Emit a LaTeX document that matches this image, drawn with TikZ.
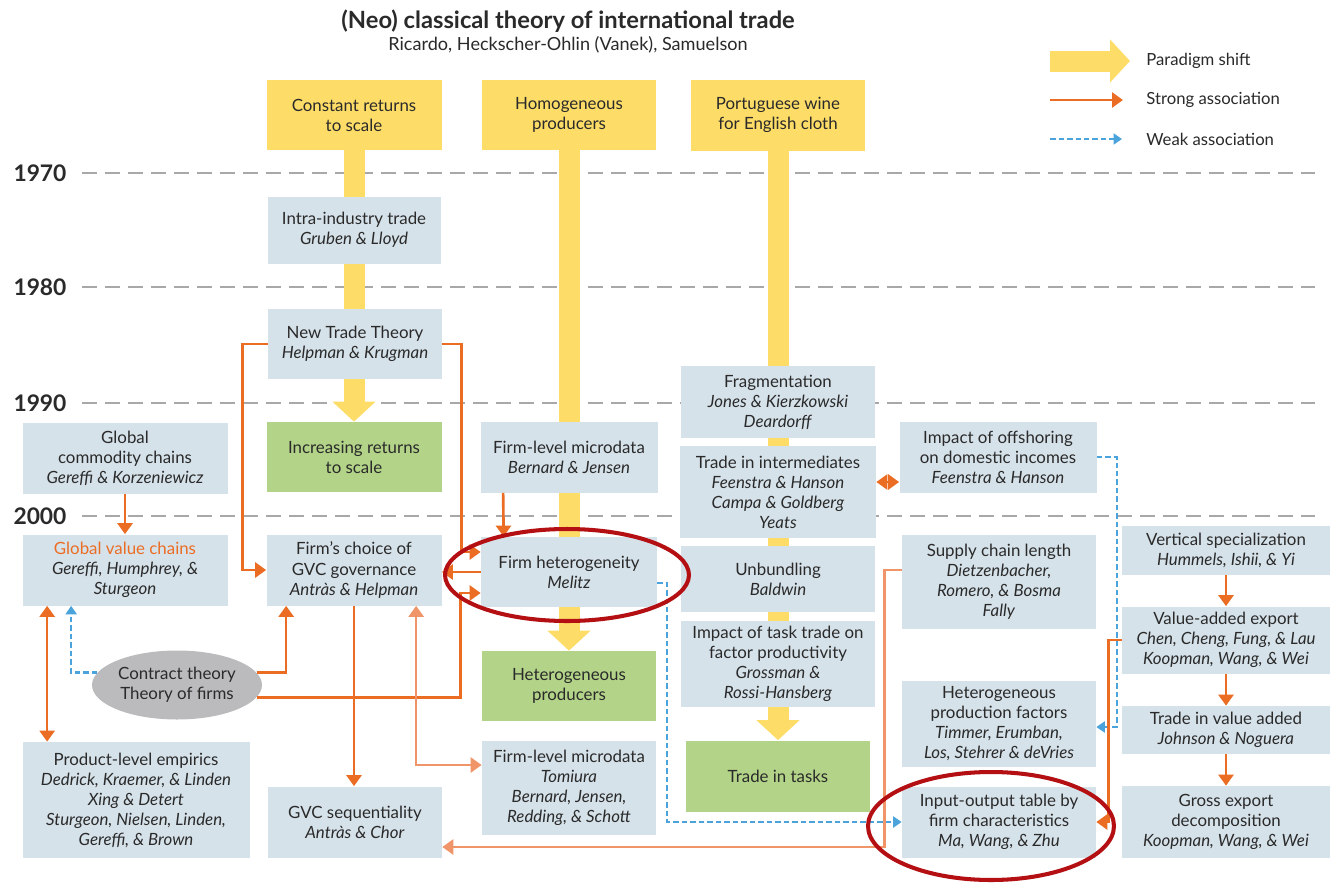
\documentclass[tikz,border=0pt]{standalone}
\usepackage{fontspec}
\setmainfont{Lato}
\usetikzlibrary{arrows.meta,shapes.geometric,calc}

\definecolor{gelbton}{HTML}{FDDD68}
\definecolor{boxblau}{HTML}{D6E2EA}
\definecolor{boxgruen}{HTML}{B3D488}
\definecolor{orangeton}{HTML}{EB6D24}
\definecolor{orangehell}{HTML}{F0946A}
\definecolor{blauton}{HTML}{4AA3DB}
\definecolor{grauellipse}{HTML}{BBBBBD}
\definecolor{rotton}{HTML}{B40F12}
\definecolor{rastergrau}{HTML}{A8A8A8}
\definecolor{schrift}{HTML}{2A2A2A}

\newcommand\kastenschrift{\fontsize{9.6}{11.4}\selectfont}

\pgfdeclarelayer{hinten}
\pgfsetlayers{hinten,main}

\tikzset{
  kasten/.style={fill=boxblau, text=schrift, align=center, inner sep=1pt, font=\kastenschrift},
  gruenkasten/.style={kasten, fill=boxgruen},
  gelbkasten/.style={kasten, fill=gelbton},
  groesse/.style 2 args={minimum width=#1*0.02cm, minimum height=#2*0.02cm},
  stark/.style={draw=orangeton, line width=1.5pt, ->},
  starkhell/.style={stark, draw=orangehell},
  schwach/.style={draw=blauton, line width=1.3pt, dash pattern=on 0.11cm off 0.06cm,
    -{Triangle[length=0.17cm,width=0.22cm]}},
  paradigma/.style={draw=gelbton, line width=0.42cm, -{Triangle[length=0.4cm,width=0.84cm]}},
  rasterlinie/.style={draw=rastergrau, line width=1.1pt, dash pattern=on 0.3cm off 0.16cm},
  jahr/.style={font=\fontsize{13}{15}\selectfont\bfseries, text=schrift},
  legende/.style={anchor=west, inner sep=0, text=schrift, font=\fontsize{9.5}{11}\selectfont},
  markierung/.style={draw=rotton, line width=2.3pt},
}

\begin{document}
\begin{tikzpicture}[x=0.02cm, y=-0.02cm, >={Triangle[length=0.22cm,width=0.3cm]}]

  \useasboundingbox (0,0) rectangle (1330,883);

  % Titel
  \node[text=schrift, font=\fontsize{13.5}{15}\selectfont\bfseries] (titel) at (568,21)
    {(Neo) classical theory of international trade};
  \node[text=schrift, font=\fontsize{10.3}{12}\selectfont] (untertitel) at (568,45)
    {Ricardo, Heckscher-Ohlin (Vanek), Samuelson};

  % Legende
  \coordinate (lpa) at (1050,61);  \coordinate (lpb) at (1130,61);
  \coordinate (lsa) at (1050,100); \coordinate (lsb) at (1123,100);
  \coordinate (lwa) at (1050,139); \coordinate (lwb) at (1122,139);
  \draw[paradigma] (lpa) -- (lpb);
  \draw[stark] (lsa) -- (lsb);
  \draw[schwach] (lwa) -- (lwb);
  \node[legende] (lparadigma) at (1146,61) {Paradigm shift};
  \node[legende] (lstark) at (1146,100) {Strong association};
  \node[legende] (lschwach) at (1146,139) {Weak association};

  % Jahreszahlen
  \foreach \y/\j in {173/1970, 287/1980, 403/1990, 516/2000}
    \node[jahr] (j\j) at (40,\y) {\j};

  % Ausgangspunkte (gelb)
  \node[gelbkasten, groesse={175}{70}] (crs) at (354,115) {Constant returns\\to scale};
  \node[gelbkasten, groesse={174}{70}] (hom) at (569,115) {Homogeneous\\producers};
  \node[gelbkasten, groesse={174}{71}] (pwe) at (778,115) {Portuguese wine\\for English cloth};

  % Spalte links
  \node[kasten, groesse={205}{71}] (gcc) at (125,458)
    {Global\\commodity chains\\\textit{Gereffi \& Korzeniewicz}};
  \node[kasten, groesse={205}{71}] (gvc) at (125,570)
    {{\color{orangeton}Global value chains}\\\textit{Gereffi, Humphrey, \&}\\\textit{Sturgeon}};
  \node[ellipse, fill=grauellipse, text=schrift, font=\kastenschrift, align=center,
    inner sep=0, minimum width=170*0.02cm, minimum height=69*0.02cm] (ct) at (177,685)
    {Contract theory\\Theory of firms};
  \node[kasten, groesse={227}{116}] (ple) at (136,800)
    {Product-level empirics\\\textit{Dedrick, Kraemer, \& Linden}\\\textit{Xing \& Detert}\\
     \textit{Sturgeon, Nielsen, Linden,}\\\textit{Gereffi, \& Brown}};

  % Spalte 1
  \node[kasten, groesse={173}{67}] (intra) at (354,230) {Intra-industry trade\\\textit{Gruben \& Lloyd}};
  \node[kasten, groesse={174}{70}] (ntt) at (355,344) {New Trade Theory\\\textit{Helpman \& Krugman}};
  \node[gruenkasten, groesse={175}{70}] (irs) at (354,457) {Increasing returns\\to scale};
  \node[kasten, groesse={175}{71}] (choice) at (354,570)
    {Firm’s choice of\\GVC governance\\\textit{Antràs \& Helpman}};
  \node[kasten, groesse={174}{71}] (seq) at (355,822) {GVC sequentiality\\\textit{Antràs \& Chor}};

  % Spalte 2
  \node[kasten, groesse={177}{71}] (fm1) at (569,457) {Firm-level microdata\\\textit{Bernard \& Jensen}};
  \node[kasten, groesse={176}{70}] (het) at (569,572) {Firm heterogeneity\\\textit{Melitz}};
  \node[gruenkasten, groesse={174}{70}] (hp) at (569,686) {Heterogeneous\\producers};
  \node[kasten, groesse={174}{94}] (fm2) at (569,788)
    {Firm-level microdata\\\textit{Tomiura}\\\textit{Bernard, Jensen,}\\\textit{Redding, \& Schott}};

  % Spalte 3
  \node[kasten, groesse={194}{72}] (frag) at (778,402)
    {Fragmentation\\\textit{Jones \& Kierzkowski}\\\textit{Deardorff}};
  \node[kasten, groesse={196}{92}] (tii) at (778,492)
    {Trade in intermediates\\\textit{Feenstra \& Hanson}\\\textit{Campa \& Goldberg}\\\textit{Yeats}};
  \node[kasten, groesse={194}{66}] (unb) at (778,579) {Unbundling\\\textit{Baldwin}};
  \node[kasten, groesse={194}{86}] (itt) at (778,664)
    {Impact of task trade on\\factor productivity\\\textit{Grossman \&}\\\textit{Rossi-Hansberg}};
  \node[gruenkasten, groesse={184}{71}] (tit) at (778,776) {Trade in tasks};

  % Spalte 4
  \node[kasten, groesse={197}{71}] (off) at (998,457)
    {Impact of offshoring\\on domestic incomes\\\textit{Feenstra \& Hanson}};
  \node[kasten, groesse={194}{94}] (sup) at (999,582)
    {Supply chain length\\\textit{Dietzenbacher,}\\\textit{Romero, \& Bosma}\\\textit{Fally}};
  \node[kasten, groesse={194}{86}] (hpf) at (999,724)
    {Heterogeneous\\production factors\\\textit{Timmer, Erumban,}\\\textit{Los, Stehrer \& deVries}};
  \node[kasten, groesse={194}{71}] (io) at (999,822)
    {Input-output table by\\firm characteristics\\\textit{Ma, Wang, \& Zhu}};

  % Spalte rechts
  \node[kasten, groesse={208}{49}] (vs) at (1226,550)
    {Vertical specialization\\\textit{Hummels, Ishii, \& Yi}};
  \node[kasten, groesse={208}{67}] (vae) at (1226,640)
    {Value-added export\\\textit{Chen, Cheng, Fung, \& Lau}\\\textit{Koopman, Wang, \& Wei}};
  \node[kasten, groesse={208}{48}] (tva) at (1226,730)
    {Trade in value added\\\textit{Johnson \& Noguera}};
  \node[kasten, groesse={208}{72}] (ged) at (1226,822)
    {Gross export\\decomposition\\\textit{Koopman, Wang, \& Wei}};

  % Hintergrund: Raster und Paradigmenwechsel
  \begin{pgfonlayer}{hinten}
    \fill[white] (0,0) rectangle (1330,883);
    \foreach \y in {173, 287, 403, 516}
      \draw[rasterlinie] (82,\y) -- (1315,\y);
    \draw[paradigma] (crs.south) -- (irs.north);
    \draw[paradigma] (hom.south) -- (hp.north);
    \draw[paradigma] (pwe.south) -- (tit.north);
  \end{pgfonlayer}

  % Verbindungen links
  \draw[stark] (gcc.south) -- (gvc.north);
  \draw[stark, <->] ($(gvc.south west)+(25,0)$) -- ($(ple.north west)+(25,0)$);
  \draw[schwach] (ct.171) -| ($(gvc.south west)+(49,0)$);
  \draw[stark] (ct.9) -| ($(choice.south west)+(20,0)$);
  \draw[stark] (ct.-9) -| ($(het.west)+(-20,21)$) -- ($(het.west)+(0,21)$);

  % New Trade Theory
  \draw[stark] (ntt.west) -- ++(-25,0) |- (choice.west);
  \draw[stark] (ntt.east) -- ++(19,0) |- ($(het.west)+(0,-20)$);

  % Firmen
  \draw[stark] ($(fm1.south west)+(23,0)$) -- ($(het.north west)+(23,0)$);
  \draw[stark] (het.west) -- (het.west -| choice.east);
  \draw[stark] (choice.south) -- (choice.south |- seq.north);
  \draw[starkhell, <->] ($(choice.south west)+(150,0)$) |- ($(fm2.west)+(0,-23)$);

  % Supply chain, Input-output
  \draw[starkhell] ($(sup.west)+(0,-12)$) -- ++(-17,0) |- ($(seq.east)+(0,25)$);
  \draw[schwach] ($(het.east)+(0,11)$) -- ++(10,0) |- (io.west);
  \draw[schwach] (off.east) -- ++(20,0) |- ($(hpf.east)+(0,3)$);
  \draw[stark] (vae.west) -- ++(-13,0) |- (io.east);
  \draw[stark, <->] ($(off.west)+(0,25)$) -- ($(off.west -| tii.east)+(0,25)$);

  % Kette rechts
  \draw[stark] (vs.south) -- (vae.north);
  \draw[stark] (vae.south) -- (tva.north);
  \draw[stark] (tva.south) -- (ged.north);

  % Markierungen
  \draw[markierung] ($(het.center)+(-2,3)$) ellipse [x radius=2.44cm, y radius=0.92cm];
  \draw[markierung] ($(io.center)+(-8,4)$) ellipse [x radius=2.46cm, y radius=1.08cm];

\end{tikzpicture}
\end{document}
